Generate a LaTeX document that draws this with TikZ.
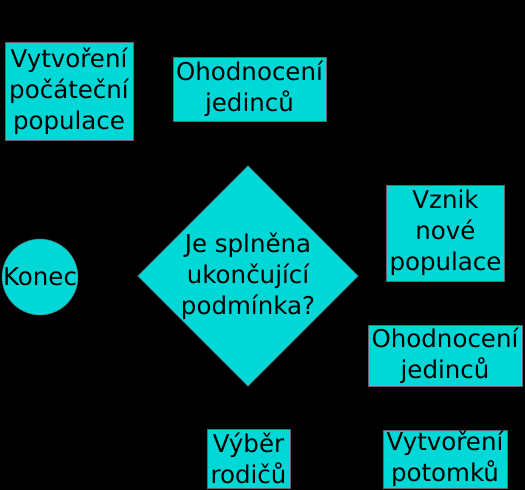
\documentclass[tikz,border=0pt]{standalone}
\usepackage{fontspec}
\setmainfont{DejaVu Sans}
\usetikzlibrary{shapes.geometric}
\definecolor{tyrkys}{RGB}{0,216,216}

\begin{document}
\begin{tikzpicture}[x=1pt, y=1pt,
        krok/.style={draw=black!60, fill=tyrkys, align=center, inner sep=0pt},
        ]
        % Background and bounds
        \fill[black] (0,0) rectangle (525,490);
        \useasboundingbox (0,0) rectangle (525,490);

        \begin{scope}[font=\fontsize{24.5}{31}\selectfont]
        % Process steps
        \node[krok, minimum width=128, minimum height=98] (start) at (69,399) {Vytvoření\\počáteční\\populace};
        \node[krok, minimum width=153, minimum height=64] (eval1) at (249.5,401) {Ohodnocení\\jedinců};
        \node[krok, diamond, minimum width=220, minimum height=220] (cond) at (248,214) {Je splněna\\ukončující\\podmínka?};
        \node[krok, circle, minimum size=76] (konec) at (40,213) {Konec};
        \node[krok, minimum width=118, minimum height=96] (nova) at (445.5,257) {Vznik\\nové\\populace};
        \node[krok, minimum width=154, minimum height=61] (eval2) at (445,134.5) {Ohodnocení\\jedinců};
        \node[krok, minimum width=83, minimum height=59] (vyber) at (248.5,31.5) {Výběr\\rodičů};
        \node[krok, minimum width=124, minimum height=58] (potomci) at (445,31) {Vytvoření\\potomků};
        \end{scope}
    \end{tikzpicture}
\end{document}
